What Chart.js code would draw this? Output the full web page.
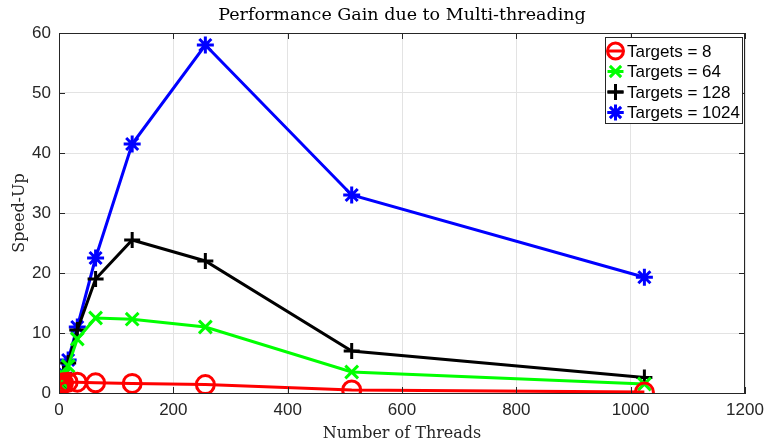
<!DOCTYPE html>
<html>
<head>
<meta charset="utf-8">
<script src="https://cdn.jsdelivr.net/npm/chart.js@4.4.1/dist/chart.umd.min.js"></script>
<style>
  html, body { margin: 0; padding: 0; background: #fff; }
  #wrap { width: 768px; height: 444px; }
</style>
</head>
<body>
<div id="wrap"><canvas id="speedChart" width="768" height="444"></canvas></div>
<script>
// thread counts and measured speed-ups
const threads = [1, 2, 4, 8, 16, 32, 64, 128, 256, 512, 1024];
const targets8 = [1, 1.2, 1.5, 1.7, 1.8, 1.8, 1.7, 1.6, 1.4, 0.5, 0.15];
const targets64 = [1, 1.4, 2, 3, 4.5, 9, 12.5, 12.3, 11, 3.5, 1.5];
const targets128 = [1, 1.5, 2.1, 3.2, 5, 10.5, 19, 25.5, 22, 7, 2.6];
const targets1024 = [1, 1.5, 2.2, 3.3, 5.5, 11, 22.5, 41.5, 58, 33, 19.3];
const xTicks = [0, 200, 400, 600, 800, 1000, 1200];
const yTicks = [0, 10, 20, 30, 40, 50, 60];

const ink = "#262626";
const sans = "'Liberation Sans', Arial, sans-serif";
const serif = "'DejaVu Serif', 'Liberation Serif', serif";
const titleText = "Performance Gain due to Multi-threading";

function pts(vals) {
    return threads.map((t, i) => ({ x: t, y: vals[i] }));
}

const series = [
    { label: "Targets = 8", data: pts(targets8), color: "#ff0000", style: "circle", r: 9 },
    { label: "Targets = 64", data: pts(targets64), color: "#00ff00", style: "crossRot", r: 9 },
    { label: "Targets = 128", data: pts(targets128), color: "#000000", style: "cross", r: 8 },
    { label: "Targets = 1024", data: pts(targets1024), color: "#0000ff", style: "star", r: 8.5 }
];

// title over the axes, box, inner ticks and in-axes legend like matlab
const boxPlugin = {
    id: "boxPlugin",
    afterDatasetsDraw(chart) {
        const c = chart.ctx;
        const a = chart.chartArea;
        const xs = chart.scales.x, ys = chart.scales.y;
        c.save();
        c.fillStyle = "#000";
        c.font = "17.5px " + serif;
        c.textAlign = "center";
        c.textBaseline = "middle";
        c.fillText(titleText, (a.left + a.right) / 2, 15);
        c.textAlign = "left";

        c.strokeStyle = ink;
        c.lineWidth = 1;
        c.strokeRect(a.left + 0.5, a.top + 0.5, a.right - a.left - 1, a.bottom - a.top);
        c.beginPath();
        xTicks.forEach(v => {
            let px = Math.round(xs.getPixelForValue(v)) + 0.5;
            c.moveTo(px, a.bottom); c.lineTo(px, a.bottom - 6);
            c.moveTo(px, a.top); c.lineTo(px, a.top + 6);
        });
        yTicks.forEach(v => {
            let py = Math.round(ys.getPixelForValue(v)) + 0.5;
            c.moveTo(a.left, py); c.lineTo(a.left + 6, py);
            c.moveTo(a.right, py); c.lineTo(a.right - 6, py);
        });
        c.stroke();

        // legend
        let lx = a.right - 140, ly = a.top + 4, lw = 137, lh = 86;
        c.fillStyle = "#fff";
        c.fillRect(lx, ly, lw, lh);
        c.strokeRect(lx + 0.5, ly + 0.5, lw, lh);
        c.font = "17px " + sans;
        series.forEach((s, i) => {
            let yy = ly + 14 + i * 20.5;
            let mx = lx + 10.5;
            c.strokeStyle = s.color;
            c.lineWidth = 3;
            c.beginPath();
            c.moveTo(mx - 8, yy); c.lineTo(mx + 8, yy);
            c.stroke();
            c.fillStyle = "rgba(0,0,0,0)";
            Chart.helpers.drawPoint(c, { pointStyle: s.style, radius: Math.min(s.r, 8), borderWidth: 3 }, mx, yy);
            c.fillStyle = "#000";
            c.fillText(s.label, lx + 22, yy + 1);
        });
        c.restore();
    }
};

new Chart(document.getElementById("speedChart"), {
    type: "line",
    data: {
        datasets: series.map(s => ({
            label: s.label,
            data: s.data,
            borderColor: s.color,
            backgroundColor: "transparent",
            borderWidth: 3,
            pointStyle: s.style,
            pointRadius: s.r,
            pointBorderWidth: 3,
            pointBorderColor: s.color,
            pointBackgroundColor: "transparent",
            tension: 0
        }))
    },
    options: {
        responsive: false,
        animation: false,
        layout: { padding: { left: 0, right: 23, top: 33, bottom: 0 } },
        plugins: {
            legend: { display: false },
            tooltip: { enabled: false },
            title: { display: false }
        },
        scales: {
            x: {
                type: "linear",
                min: 0, max: 1200,
                afterBuildTicks(scale) { scale.ticks = xTicks.map(v => ({ value: v })); },
                afterFit(scale) {
                    scale.height = 51;
                    scale.paddingRight = 0;
                    scale.paddingLeft = 0;
                },
                grid: { color: "#e3e3e3", drawTicks: false },
                border: { color: ink },
                ticks: {
                    color: ink, font: { family: sans, size: 17 }, padding: 7,
                    callback: v => String(v)
                },
                title: {
                    display: true, text: "Number of Threads", color: ink,
                    font: { family: serif, size: 16 }, padding: { top: 0, bottom: 1 }
                }
            },
            y: {
                min: 0, max: 60,
                afterBuildTicks(scale) { scale.ticks = yTicks.map(v => ({ value: v })); },
                afterFit(scale) {
                    scale.width = 59;
                    scale.paddingTop = 0;
                    scale.paddingBottom = 0;
                },
                grid: { color: "#e3e3e3", drawTicks: false },
                border: { color: ink },
                ticks: {
                    color: ink, font: { family: sans, size: 17 }, padding: 8,
                    callback: v => String(v)
                },
                title: {
                    display: true, text: "Speed-Up", color: ink,
                    font: { family: serif, size: 16 }, padding: { top: 10, bottom: 0 }
                }
            }
        }
    },
    plugins: [boxPlugin]
});
</script>
</body>
</html>
